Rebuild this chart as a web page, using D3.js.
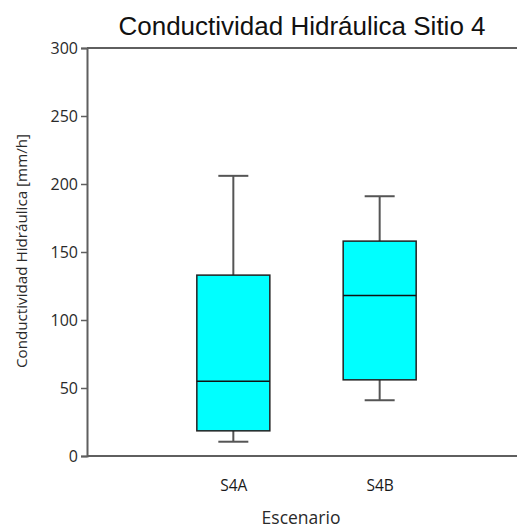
<!DOCTYPE html>
<html>
<head>
<meta charset="utf-8">
<script src="https://cdn.jsdelivr.net/npm/d3@7"></script>
<style>
  html, body { margin: 0; padding: 0; background: #fff; }
  svg { display: block; }
</style>
</head>
<body>
<div id="chart"></div>
<script>
// Box-plot summary per scenario
const categories = ["S4A", "S4B"];
const whiskerLow = [10.5, 41];
const q1 = [18.5, 56];
const median = [55, 118];
const q3 = [133, 158];
const whiskerHigh = [206, 191];
const yTicks = [0, 50, 100, 150, 200, 250, 300];

const W = 517, H = 529;
const plotLeft = 87, plotTop = 48, plotBottom = 456;

const svg = d3.select("#chart").append("svg")
  .attr("width", W).attr("height", H);

const y = d3.scaleLinear().domain([0, 300]).range([plotBottom, plotTop]);
const x = d3.scalePoint().domain(categories).range([plotLeft, 526]).padding(1);

const axisColor = "#5f5f5f";
const labelFont = "'Open Sans', 'Noto Sans', sans-serif";

// frame: top line extends to the right edge
svg.append("line").attr("x1", plotLeft).attr("x2", W).attr("y1", y(300)).attr("y2", y(300))
  .attr("stroke", axisColor).attr("stroke-width", 2);

// y axis
const yAxis = svg.append("g").attr("transform", `translate(${plotLeft},0)`)
  .call(d3.axisLeft(y).tickValues(yTicks).tickSize(6).tickPadding(3).tickFormat(d3.format("d")));
yAxis.select(".domain").attr("stroke", axisColor).attr("stroke-width", 2);
yAxis.selectAll(".tick line").attr("stroke", axisColor).attr("stroke-width", 1.5);
yAxis.selectAll(".tick text").attr("fill", "#2a2a2a").attr("font-family", labelFont).attr("font-size", 16);

// x axis
const xAxis = svg.append("g").attr("transform", `translate(0,${plotBottom})`)
  .call(d3.axisBottom(x).tickSize(0).tickPadding(24));
xAxis.select(".domain").attr("d", `M${plotLeft},0H${W}`).attr("stroke", axisColor).attr("stroke-width", 2);
xAxis.selectAll(".tick text").attr("fill", "#1a1a1a").attr("font-family", labelFont).attr("font-size", 15.5);

const boxW = 73, capW = 30;
const g = svg.append("g");
categories.forEach((c, i) => {
  const cx = x(c);
  // whiskers
  g.append("line").attr("x1", cx).attr("x2", cx).attr("y1", y(whiskerHigh[i])).attr("y2", y(q3[i]))
    .attr("stroke", "#555").attr("stroke-width", 2);
  g.append("line").attr("x1", cx).attr("x2", cx).attr("y1", y(q1[i])).attr("y2", y(whiskerLow[i]))
    .attr("stroke", "#555").attr("stroke-width", 2);
  g.append("line").attr("x1", cx - capW / 2).attr("x2", cx + capW / 2).attr("y1", y(whiskerHigh[i])).attr("y2", y(whiskerHigh[i]))
    .attr("stroke", "#555").attr("stroke-width", 2);
  g.append("line").attr("x1", cx - capW / 2).attr("x2", cx + capW / 2).attr("y1", y(whiskerLow[i])).attr("y2", y(whiskerLow[i]))
    .attr("stroke", "#555").attr("stroke-width", 2);
  // box
  g.append("rect").attr("x", cx - boxW / 2).attr("y", y(q3[i]))
    .attr("width", boxW).attr("height", y(q1[i]) - y(q3[i]))
    .attr("fill", "#00ffff").attr("stroke", "#222").attr("stroke-width", 1.5);
  g.append("line").attr("x1", cx - boxW / 2).attr("x2", cx + boxW / 2).attr("y1", y(median[i])).attr("y2", y(median[i]))
    .attr("stroke", "#111").attr("stroke-width", 1.5);
});

// title
svg.append("text").attr("x", 302).attr("y", 35).attr("text-anchor", "middle")
  .attr("font-family", "'Liberation Sans', Arial, sans-serif").attr("font-size", 26).attr("fill", "#111")
  .text("Conductividad Hidráulica Sitio 4");

// axis titles
svg.append("text").attr("x", 301).attr("y", 524).attr("text-anchor", "middle")
  .attr("font-family", labelFont).attr("font-size", 17.5).attr("fill", "#2a2a2a")
  .text("Escenario");
svg.append("text").attr("transform", "translate(27,251) rotate(-90)").attr("text-anchor", "middle")
  .attr("font-family", labelFont).attr("font-size", 15.2).attr("fill", "#2a2a2a")
  .text("Conductividad Hidráulica [mm/h]");
</script>
</body>
</html>
